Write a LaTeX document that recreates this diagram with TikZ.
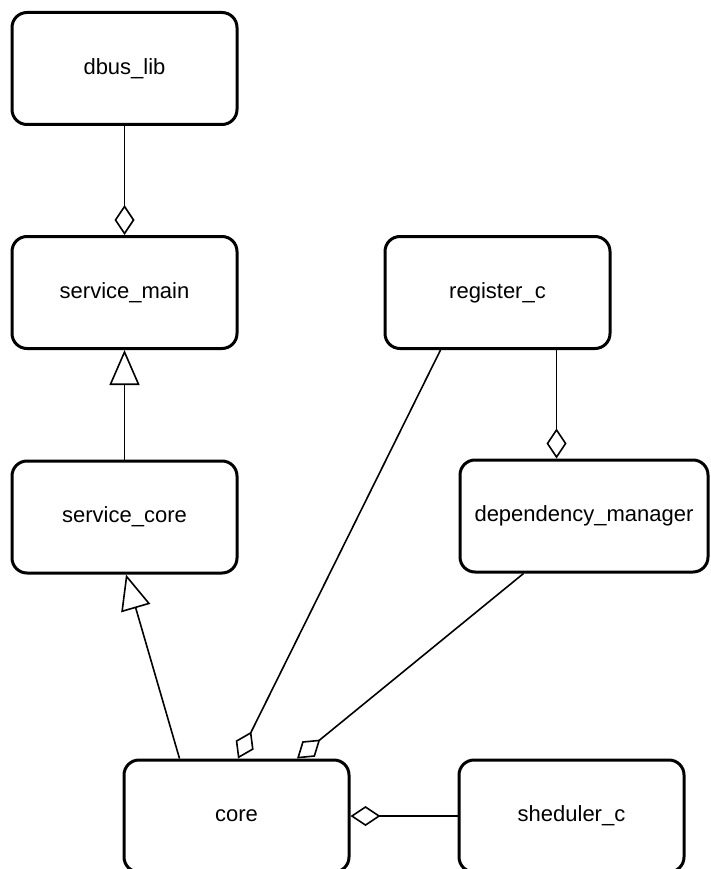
\documentclass[tikz,border=0pt]{standalone}
\usepackage{fontspec}
\setmainfont{Liberation Sans}
\usetikzlibrary{arrows.meta}
\begin{document}
\begin{tikzpicture}[x=1pt,y=-1pt,
  cls/.style={draw=black, line width=3pt, rounded corners=15pt, fill=white,
    minimum width=225pt, minimum height=112pt, inner sep=0pt,
    font=\fontsize{22}{26}\selectfont},
  conn/.style={draw=black, line width=1.6pt},
  agg/.style={conn, -{Diamond[open, fill=white, length=30pt, width=20pt, line width=1.6pt]}},
  gen/.style={conn, -{Triangle[open, fill=white, length=35pt, width=30pt, line width=1.6pt]}}]
\useasboundingbox (0,0) rectangle (711,869);
\node[cls] (dbus) at (124.5,68.5) {dbus\_lib};
\node[cls] (smain) at (124.5,292.5) {service\_main};
\node[cls] (score) at (124.5,517) {service\_core};
\node[cls] (reg) at (497.5,292.5) {register\_c};
\node[cls, minimum width=248pt] (dep) at (584,516) {dependency\_manager};
\node[cls] (core) at (236.5,816) {core};
\node[cls] (shed) at (571.5,816) {sheduler\_c};

\draw[agg] (dbus.south) -- (smain.north);
\draw[gen] (score.north) -- (smain.south);
\draw[gen] ([xshift=57pt]core.north west) -- ([xshift=1.5pt]score.south);
\draw[agg] ([xshift=57pt]reg.south west) -- ([xshift=1.5pt]core.north);
\coordinate (rdtop) at ([xshift=-55pt]reg.south east);
\draw[agg] (rdtop) -- (rdtop |- dep.north);
\draw[agg] ([xshift=65pt]dep.south west) -- ([xshift=60.5pt]core.north);
\draw[agg] (shed.west) -- (core.east);
\end{tikzpicture}
\end{document}
